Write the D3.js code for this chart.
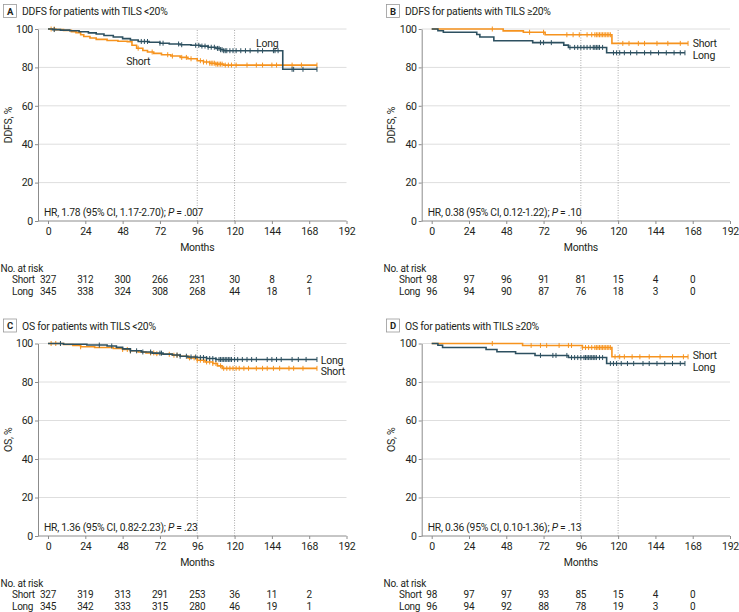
<!DOCTYPE html>
<html lang="en">
<head>
<meta charset="UTF-8">
<title>DDFS and OS by TILS</title>
<script src="https://d3js.org/d3.v7.min.js"></script>
<style>
  body { margin: 0; background: #fff; }
  svg text { font-family: "Roboto", "Liberation Sans", sans-serif; fill: #231f20; letter-spacing: -0.25px; }
</style>
</head>
<body>
<svg id="chart" width="739" height="612"></svg>
<script>
// axis values
var monthTicks = [0, 24, 48, 72, 96, 120, 144, 168, 192];
var riskTimes = [0, 24, 48, 72, 96, 120, 144, 168];
var pctTicks = [0, 20, 40, 60, 80, 100];
var refMonths = [96, 120];
var groupNames = ["Short", "Long"];

// panel texts
var panelLetters = ["A", "B", "C", "D"];
var panelTitles = ["DDFS for patients with TILS <20%", "DDFS for patients with TILS \u226520%",
                   "OS for patients with TILS <20%", "OS for patients with TILS \u226520%"];
var yTitles = ["DDFS, %", "DDFS, %", "OS, %", "OS, %"];
var hrPrefix = ["HR, 1.78 (95% CI, 1.17-2.70); ", "HR, 0.38 (95% CI, 0.12-1.22); ",
                "HR, 1.36 (95% CI, 0.82-2.23); ", "HR, 0.36 (95% CI, 0.10-1.36); "];
var hrP = [".007", ".10", ".23", ".13"];

// number at risk
var riskA_short = [327, 312, 300, 266, 231, 30, 8, 2];
var riskA_long  = [345, 338, 324, 308, 268, 44, 18, 1];
var riskB_short = [98, 97, 96, 91, 81, 15, 4, 0];
var riskB_long  = [96, 94, 90, 87, 76, 18, 3, 0];
var riskC_short = [327, 319, 313, 291, 253, 36, 11, 2];
var riskC_long  = [345, 342, 333, 315, 280, 46, 19, 1];
var riskD_short = [98, 97, 97, 93, 85, 15, 4, 0];
var riskD_long  = [96, 94, 92, 88, 78, 19, 3, 0];

// Kaplan-Meier steps [month, %]
var stepsA_short = [[0,100],[5,99.7],[10,99.3],[15,98.6],[18,98.1],[21,97.0],[23,96.1],[27,95.3],[31,94.6],[38,94.0],
  [45,93.6],[51,93.4],[54,91.5],[57,90.0],[61,88.8],[64,88.0],[68,87.3],[73,86.6],[79,85.9],[85,85.2],[90,84.5],
  [96,83.5],[100,82.8],[104,82.2],[108,81.7],[113,81.2]];
var stepsA_long = [[0,100],[3,99.7],[8,99.4],[14,99.1],[20,98.6],[26,98.0],[31,97.4],[36,96.6],[42,95.8],[48,95.0],
  [53,94.3],[58,93.5],[65,93.1],[72,92.6],[78,92.2],[85,91.8],[92,91.5],[98,91.1],[103,90.5],[108,89.9],[111,89.2],
  [113,88.7],[151,79.0]];
var stepsB_short = [[0,100],[46,99.0],[59,98.3],[73,97.0],[116,92.5]];
var stepsB_long = [[0,100],[4,99.1],[7.5,98.3],[29,97.1],[31,95.8],[40,93.9],[65,92.9],[85,91.6],[88,90.4],[112.6,87.6]];
var stepsC_short = [[0,100],[10,99.5],[16,99.0],[21,98.3],[30,97.9],[42,97.4],[48,96.9],[53,96.2],[58,95.6],[63,95.1],
  [69,94.7],[74,94.4],[80,93.9],[85,93.4],[90,92.5],[96,91.3],[101,90.4],[106,89.6],[109,88.4],[112,87.1]];
var stepsC_long = [[0,100],[10,99.6],[25,99.2],[38,98.7],[44,98.0],[48,97.2],[53,96.2],[60,95.6],[67,95.0],[74,94.5],
  [80,94.0],[85,93.4],[90,93.0],[96,92.7],[102,92.2],[108,91.7]];
var stepsD_short = [[0,100],[58.5,99.0],[97,97.9],[116,93.1]];
var stepsD_long = [[0,100],[4,99.1],[7,97.9],[35,96.9],[42,95.7],[54,94.8],[66.5,93.8],[88,92.7],[112.6,89.6]];

// censoring times (months); last one is where the curve ends
var censA_short = [2,4,58,67,77,80,86,89,92,98,100,102,104,105,106,107,108,109,110,111,112,114,116,118,121,128,134,138,144,147,157,163,173];
var censA_long = [4,60,62,64,72,74,84,86,95,97,99,101,103,105,107,109,110,111,112,113,114,115,117,119,121,124,127,130,135,138,145,146,148,157,158,164,173];
var censB_short = [39,63,72,87,91,95,100,103,105,106,107,108,109,110,111,112,113,114,115,123,127,133,137,145,152,160,165];
var censB_long = [70,72,77,89,92,94,96,98,100,102,104,105,106,107,108,110,117,119,121,124,128,132,137,141,146,151,156,160,163];
var censC_short = [2,5,21,48,51,53,66,68,70,78,81,83,91,94,96,98,100,102,104,106,108,111,113,115,117,119,121,123,126,129,134,138,141,145,149,155,158,164,173];
var censC_long = [8,33,41,53,57,61,66,72,73,83,85,89,92,95,98,100,102,104,106,108,110,111,112,113,114,115,116,117,118,120,122,125,128,131,134,141,144,147,150,157,161,166,173];
var censD_short = [39,64,70,74,82,88,90,97,99,101,103,105,106,107,108,109,110,111,112,113,114,115,118,121,124,129,134,140,147,155,162,165];
var censD_long = [70,78,80,87,90,92,94,96,98,99,100,101,102,103,104,105,106,108,110,115,117,119,122,126,130,136,140,145,150,155,160,163];

// curve label anchors [month, %]
var labelsA = [[58, 81.2], [141, 90.6]];
var labelsB = [[168, 90.7], [168, 84.6]];
var labelsC = [[175.5, 83.6], [175.5, 89.6]];
var labelsD = [[168, 91.8], [168, 85.7]];

var colors = { Short: "#f6931e", Long: "#2d5060" };
var gridColor = "#dedede", axisColor = "#8c8c8c";

// layout of the four panels (rx = left edge of the risk row names)
var layout = [
  { ox: 0,   x0: 48,    x1: 346.5, yb: 221, yt: 29,    ty: 14,    rx: 12 },
  { ox: 383, x0: 431.7, x1: 730,   yb: 221, yt: 29,    ty: 14,    rx: 399 },
  { ox: 0,   x0: 48,    x1: 346.5, yb: 536, yt: 343.5, ty: 328.5, rx: 12 },
  { ox: 383, x0: 431.7, x1: 730,   yb: 536, yt: 343.5, ty: 328.5, rx: 399 }
];

var panels = [
  { steps: [stepsA_short, stepsA_long], cens: [censA_short, censA_long], risk: [riskA_short, riskA_long], labels: labelsA },
  { steps: [stepsB_short, stepsB_long], cens: [censB_short, censB_long], risk: [riskB_short, riskB_long], labels: labelsB },
  { steps: [stepsC_short, stepsC_long], cens: [censC_short, censC_long], risk: [riskC_short, riskC_long], labels: labelsC },
  { steps: [stepsD_short, stepsD_long], cens: [censD_short, censD_long], risk: [riskD_short, riskD_long], labels: labelsD }
];

var svg = d3.select("#chart");

function valueAt(steps, t) {
  var v = steps[0][1];
  steps.forEach(function(s) { if (s[0] <= t) v = s[1]; });
  return v;
}

panels.forEach(function(p, i) {
  var L = layout[i];
  var x = d3.scaleLinear().domain([0, 192]).range([L.x0, L.x1]);
  var y = d3.scaleLinear().domain([0, 100]).range([L.yb, L.yt]);
  var g = svg.append("g");
  var axX = L.x0 - 10;

  // title with boxed letter
  g.append("rect").attr("x", L.ox + 3.5).attr("y", L.ty - 9.5).attr("width", 13).attr("height", 13)
    .attr("fill", "#fff").attr("stroke", "#9a9a9a").attr("stroke-width", 0.8);
  g.append("text").attr("x", L.ox + 10).attr("y", L.ty + 0.5).attr("text-anchor", "middle")
    .attr("font-size", "9.5px").attr("font-weight", "bold").text(panelLetters[i]);
  g.append("text").attr("x", L.ox + 22).attr("y", L.ty + 1).attr("font-size", "10.4px").text(panelTitles[i]);

  // horizontal gridlines
  g.selectAll(".grid").data(pctTicks.filter(function(d) { return d > 0; })).enter().append("line")
    .attr("x1", axX).attr("x2", L.x1).attr("y1", function(d) { return y(d); }).attr("y2", function(d) { return y(d); })
    .attr("stroke", gridColor).attr("stroke-width", 1);

  // dotted reference lines at 96 and 120 months
  g.selectAll(".ref").data(refMonths).enter().append("line")
    .attr("x1", function(d) { return x(d); }).attr("x2", function(d) { return x(d); })
    .attr("y1", y(0)).attr("y2", y(100))
    .attr("stroke", "#a0a0a0").attr("stroke-width", 0.9).attr("stroke-dasharray", "1,1.5");

  // y axis
  var yAxis = g.append("g").attr("transform", "translate(" + axX + ",0)")
    .call(d3.axisLeft(y).tickValues(pctTicks).tickSize(3).tickSizeOuter(0).tickPadding(2));
  yAxis.select(".domain").attr("stroke", axisColor);
  yAxis.selectAll(".tick line").attr("stroke", axisColor);
  yAxis.selectAll(".tick text").attr("font-size", "10.5px").attr("font-family", null);

  // x axis
  var xAxis = g.append("g").attr("transform", "translate(0," + L.yb + ")")
    .call(d3.axisBottom(x).tickValues(monthTicks).tickSize(3).tickSizeOuter(0).tickPadding(4));
  xAxis.select(".domain").attr("d", "M" + axX + ",0H" + L.x1).attr("stroke", axisColor);
  xAxis.selectAll(".tick line").attr("stroke", axisColor);
  xAxis.selectAll(".tick text").attr("font-size", "10.5px").attr("font-family", null);

  g.append("text").attr("x", x(96)).attr("y", L.yb + 30).attr("text-anchor", "middle")
    .attr("font-size", "10.5px").text("Months");

  g.append("text")
    .attr("transform", "translate(" + (L.ox + 12) + "," + ((L.yb + L.yt) / 2) + ") rotate(-90)")
    .attr("text-anchor", "middle").attr("font-size", "10.5px").text(yTitles[i]);

  // hazard ratio note
  var hr = g.append("text").attr("x", L.x0 - 4).attr("y", L.yb - 5).attr("font-size", "10.3px");
  hr.append("tspan").text(hrPrefix[i]);
  hr.append("tspan").attr("font-style", "italic").text("P");
  hr.append("tspan").text(" = " + hrP[i]);

  // curves, short first then long on top
  var line = d3.line().x(function(d) { return x(d[0]); }).y(function(d) { return y(d[1]); }).curve(d3.curveStepAfter);
  groupNames.forEach(function(name, k) {
    var steps = p.steps[k], cens = p.cens[k];
    var end = cens[cens.length - 1];
    var pts = steps.concat([[end, steps[steps.length - 1][1]]]);
    g.append("path").datum(pts).attr("d", line).attr("fill", "none")
      .attr("stroke", colors[name]).attr("stroke-width", 1.6);
    g.selectAll(".cens" + k).data(cens).enter().append("line")
      .attr("x1", function(d) { return x(d); }).attr("x2", function(d) { return x(d); })
      .attr("y1", function(d) { return y(valueAt(steps, d)) - 2.5; })
      .attr("y2", function(d) { return y(valueAt(steps, d)) + 2.5; })
      .attr("stroke", colors[name]).attr("stroke-width", 1);

    g.append("text").attr("x", x(p.labels[k][0])).attr("y", y(p.labels[k][1]))
      .attr("text-anchor", i === 0 ? "middle" : "start").attr("font-size", "10.5px").text(name);
  });

  // number at risk table
  g.append("text").attr("x", L.ox + 0.5).attr("y", L.yb + 50.5).attr("font-size", "10px").text("No. at risk");
  groupNames.forEach(function(name, k) {
    var ry = L.yb + 62 + k * 11.5;
    g.append("text").attr("x", L.rx).attr("y", ry).attr("font-size", "10px").text(name);
    g.selectAll(".risk" + k).data(p.risk[k]).enter().append("text")
      .attr("x", function(d, j) { return x(riskTimes[j]); }).attr("y", ry)
      .attr("text-anchor", "middle").attr("font-size", "10px").text(function(d) { return d; });
  });
});
</script>
</body>
</html>
